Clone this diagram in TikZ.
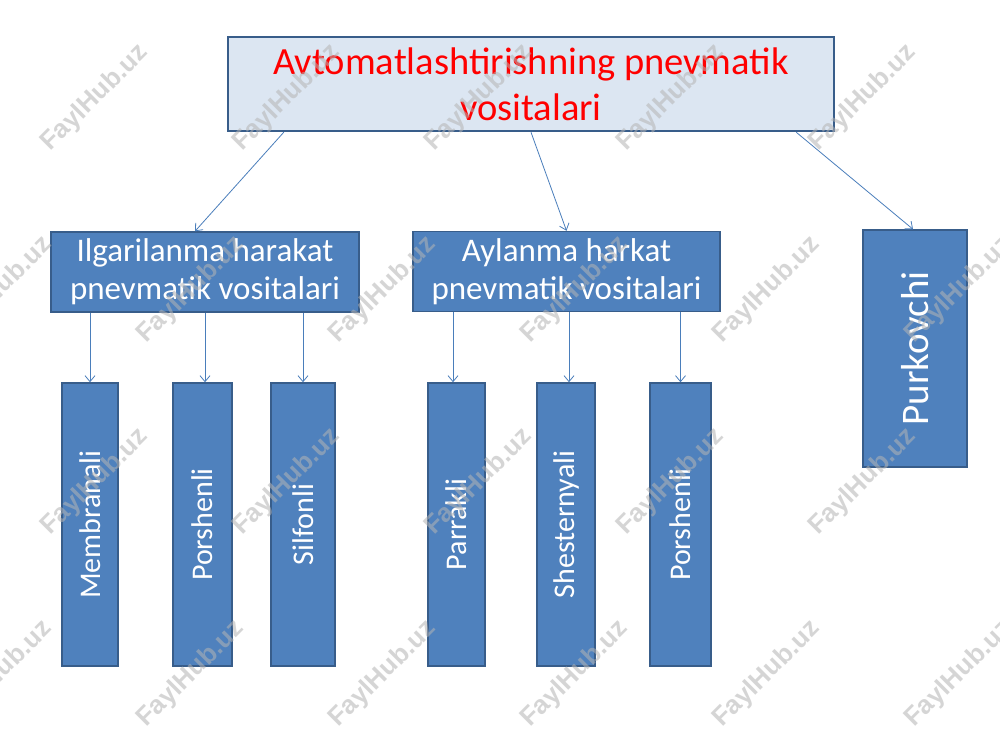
\documentclass[tikz,border=0pt]{standalone}
\usepackage{fontspec}
\usepackage{graphicx}
\setmainfont{Carlito}
\newfontfamily\wmfont{Liberation Sans}
\usetikzlibrary{arrows.meta}
\definecolor{boxblue}{HTML}{4F81BD}
\definecolor{boxedge}{HTML}{385D8A}
\definecolor{titlefill}{HTML}{DCE6F2}
\definecolor{arrowblue}{HTML}{4A7EBB}
\definecolor{titlered}{HTML}{FF0000}
\definecolor{wmgray}{HTML}{B4B4B4}
\tikzset{
  bluebox/.style={draw=boxedge, line width=1.5pt, fill=boxblue, text=white,
    inner sep=0pt, align=center},
  titlebox/.style={draw=boxedge, line width=2.5pt, fill=titlefill, text=titlered,
    inner sep=0pt, align=center, minimum width=606pt, minimum height=94pt,
    font=\fontsize{38.5}{46}\selectfont},
  midbox/.style={bluebox, minimum height=80pt, font=\fontsize{33}{38}\selectfont},
  leafbox/.style={bluebox, minimum height=283pt, font=\fontsize{30}{36}\selectfont},
  conn/.style={draw=arrowblue, line width=0.8pt, -{Straight Barb[length=6pt,width=10pt]}},
  wm/.style={rotate=45, text=wmgray, text opacity=0.55, font=\wmfont\bfseries\fontsize{26}{30}\selectfont}
}
\begin{document}
\begin{tikzpicture}[x=1pt,y=1pt]
\useasboundingbox (0,0) rectangle (1000,-750);
\clip (0,0) rectangle (1000,-750);
\fill[white] (0,0) rectangle (1000,-750);

% title
\node[titlebox] (title) at (531,-84) {Avtomatlashtirishning pnevmatik\\vositalari};

% middle level
\node[midbox, minimum width=308pt] (ilg) at (205,-272) {Ilgarilanma harakat\\pnevmatik vositalari};
\node[midbox, minimum width=307pt] (ayl) at (566.5,-271.5) {Aylanma harkat\\pnevmatik vositalari};
\node[bluebox, minimum width=104pt, minimum height=237pt, font=\fontsize{39}{45}\selectfont] (pur) at (915,-348.5) {\rotatebox{90}{Purkovchi}};

% leaves
\node[leafbox, minimum width=56pt] (mem) at (90,-524.5) {\rotatebox{90}{Membranali}};
\node[leafbox, minimum width=59pt] (por1) at (202.5,-524.5) {\rotatebox{90}{Porshenli}};
\node[leafbox, minimum width=64pt] (sil) at (303,-524.5) {\rotatebox{90}{Silfonli}};
\node[leafbox, minimum width=57pt] (par) at (456.5,-524.5) {\rotatebox{90}{Parrakli}};
\node[leafbox, minimum width=58pt] (she) at (566,-524.5) {\rotatebox{90}{Shesternyali}};
\node[leafbox, minimum width=61pt] (por2) at (680.5,-524.5) {\rotatebox{90}{Porshenli}};

% connectors from title
\draw[conn] ([xshift=57pt]title.south west) -- ([xshift=-10pt]ilg.north);
\draw[conn] (title.south) -- (ayl.north);
\draw[conn] ([xshift=-39pt]title.south east) -- ([xshift=-2pt]pur.north);

% connectors to leaves
\draw[conn] (ilg.south -| mem.north) -- (mem.north);
\draw[conn] (ilg.south) -- (ilg.south |- por1.north);
\draw[conn] (ilg.south -| sil.north) -- (sil.north);
\draw[conn] ([xshift=-3.5pt]ayl.south -| par.north) -- ([xshift=-3.5pt]par.north);
\draw[conn] ([xshift=3pt]ayl.south -| she.north) -- ([xshift=3pt]she.north);
\draw[conn] (ayl.south -| por2.north) -- (por2.north);

% watermarks
\foreach \y in {-98,-482} {
  \foreach \x in {95,287,479,671,863} {
    \node[wm] at (\x,\y) {FaylHub.uz};
  }
}
\foreach \y in {-290,-674} {
  \foreach \x in {-1,191,383,575,767,959} {
    \node[wm] at (\x,\y) {FaylHub.uz};
  }
}
\end{tikzpicture}
\end{document}
